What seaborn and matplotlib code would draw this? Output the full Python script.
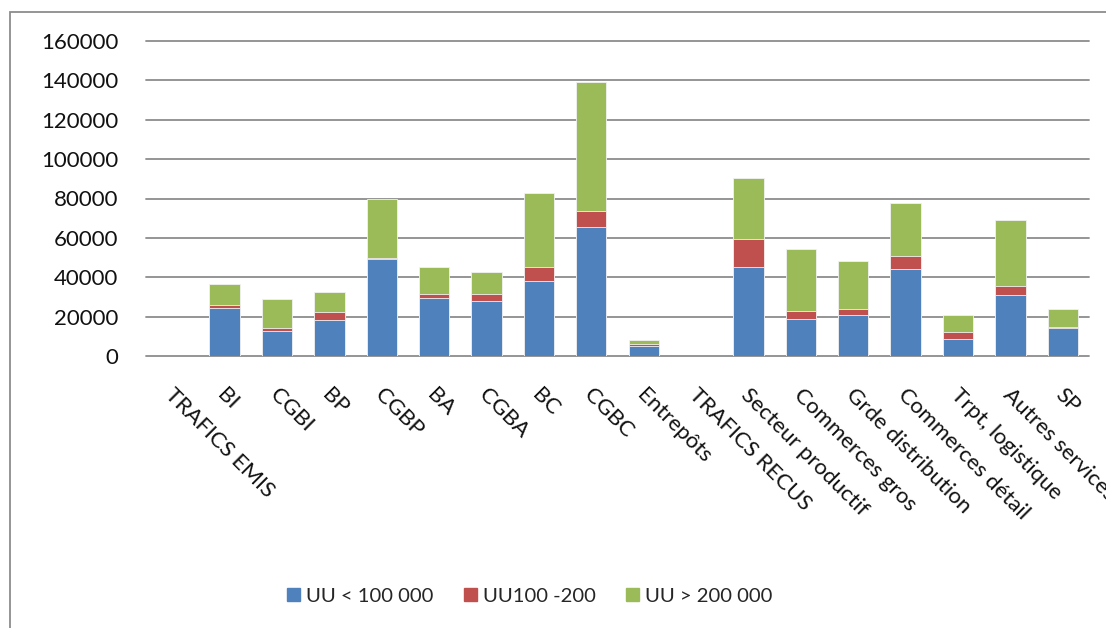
import matplotlib
matplotlib.use("Agg")
import matplotlib.pyplot as plt
import matplotlib.patches as mpatches
import matplotlib.transforms as mtransforms
import numpy as np
import pandas as pd
import seaborn as sns

categories = [
    "TRAFICS EMIS", "BI", "CGBI", "BP", "CGBP", "BA", "CGBA", "BC", "CGBC",
    "Entrepôts", "TRAFICS RECUS", "Secteur productif", "Commerces gros",
    "Grde distribution", "Commerces détail", "Trpt, logistique",
    "Autres services", "SP",
]
small_uu = [np.nan, 24600, 12900, 18300, 49200, 29300, 27800, 38000, 65600,
            4900, np.nan, 45100, 19000, 20700, 44100, 8800, 30900, 14400]
mid_uu = [np.nan, 1300, 1200, 4100, 800, 2400, 3700, 7400, 7800,
          1000, np.nan, 14100, 4100, 3400, 6900, 3600, 4900, 200]
large_uu = [np.nan, 10500, 14900, 10200, 29700, 13400, 11200, 37500, 65800,
            2000, np.nan, 31400, 31100, 24400, 26500, 8500, 33500, 9100]
series_names = ["UU < 100 000", "UU100 -200", "UU > 200 000"]
colors = ["#4F81BD", "#C0504D", "#9BBB59"]
yticks = [0, 20000, 40000, 60000, 80000, 100000, 120000, 140000, 160000]

sns.set_theme(style="white")
plt.rcParams["font.family"] = ["Lato", "DejaVu Sans"]

df = pd.DataFrame({
    "cat": categories,
    "s1": small_uu,
    "s2": mid_uu,
    "s3": large_uu,
})
# cumulative heights so each layer is drawn over the one above it
df["c1"] = df["s1"]
df["c2"] = df["s1"] + df["s2"]
df["c3"] = df["s1"] + df["s2"] + df["s3"]
df_plot = df.dropna(subset=["c3"])

W, H = 1106, 628
fig = plt.figure(figsize=(W / 100, H / 100), dpi=100)
left, right, bottom, top = 146, 1089, 356, 41
ax = fig.add_axes([left / W, 1 - bottom / H, (right - left) / W, (bottom - top) / H])

# gridlines behind the bars
for v in yticks:
    ax.axhline(v, color="#8c8c8c", lw=1.3, zorder=0, clip_on=False)

for col, color in zip(["c3", "c2", "c1"], colors[::-1]):
    sns.barplot(data=df_plot, x="cat", y=col, order=categories, color=color,
                width=0.58, saturation=1, errorbar=None, edgecolor="#f2f2f2",
                linewidth=0.6, ax=ax, zorder=2)

ax.set_xlim(-0.5, len(categories) - 0.5)
ax.set_ylim(0, 160000)
ax.set_yticks(yticks)
ax.set_yticklabels([str(v) for v in yticks], fontsize=16, color="#111111")
ax.tick_params(axis="y", length=0, pad=20)
ax.set_xlabel("")
ax.set_ylabel("")
for s in ax.spines.values():
    s.set_visible(False)

ax.set_xticks(range(len(categories)))
ax.set_xticklabels(categories, rotation=-45, rotation_mode="anchor",
                   ha="left", va="center", fontsize=16, color="#111111")
ax.tick_params(axis="x", length=0, pad=26)
offset = mtransforms.ScaledTranslation(-4 / 100, 0, fig.dpi_scale_trans)
for lab in ax.get_xticklabels():
    lab.set_transform(lab.get_transform() + offset)

handles = [mpatches.Patch(color=c, label=n) for c, n in zip(colors, series_names)]
fig.legend(handles=handles, loc="center", bbox_to_anchor=(530 / W, 1 - 596 / H),
           ncol=3, frameon=False, fontsize=14.6, handlelength=0.64,
           handleheight=0.64, handletextpad=0.3, columnspacing=1.5)

# outer chart frame
frame = mpatches.Rectangle((9.5 / W, -0.1), 1.2, 1 - 11.5 / H + 0.1,
                           transform=fig.transFigure, fill=False,
                           edgecolor="#8c8c8c", lw=1.3, clip_on=False)
fig.patches.append(frame)

fig.savefig("out.png", dpi=100, facecolor="white")
